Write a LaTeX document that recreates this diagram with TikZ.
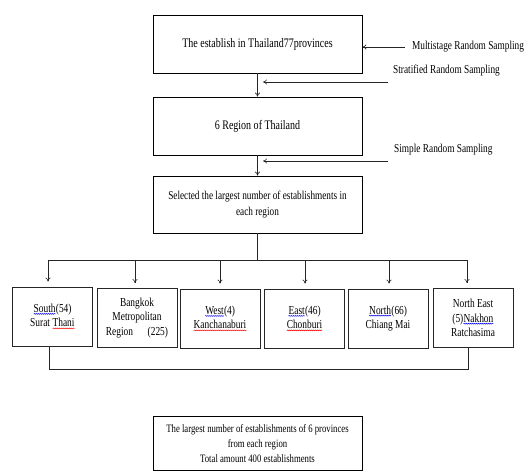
\documentclass[tikz,border=0pt]{standalone}
\usepackage{fontspec}
\setmainfont[FakeStretch=0.77]{Liberation Serif}
\usetikzlibrary{decorations.pathmorphing,arrows.meta,calc}
\newcommand\sqg[2]{\tikz[baseline=(w.base),x=1cm,y=1cm]{\node[inner sep=0pt,outer sep=0pt,minimum width=0pt,minimum height=0pt,draw=none,anchor=center](w){#2};\draw[#1,line width=0.5pt,decorate,decoration={snake,amplitude=0.45pt,segment length=2pt}] ([yshift=-1.4pt]w.south west) -- ([yshift=-1.4pt]w.south east);}}
\tikzset{
  bigbox/.style={draw=black,line width=0.7pt,minimum width=209pt,align=center,inner sep=2pt,font=\fontsize{13}{15}\selectfont},
  regbox/.style={draw=black!85,line width=0.8pt,minimum width=80pt,minimum height=59pt,align=center,inner sep=1pt,font=\fontsize{12.2}{14.5}\selectfont},
  side/.style={font=\fontsize{12.1}{13}\selectfont,inner sep=0pt},
  arr/.style={-{To[length=4pt,width=5pt]},line width=0.6pt,black!85},
  ln/.style={line width=0.6pt,black!85}
}
\begin{document}
\begin{tikzpicture}[x=1pt,y=-1pt]
\useasboundingbox (0,0) rectangle (527,472);
\node[bigbox,minimum height=58pt] (b1) at (257.5,44) {The establish in Thailand77provinces};
\node[bigbox,minimum height=58pt] (b2) at (257.5,126) {6 Region of Thailand};
\node[bigbox,minimum height=57pt,font=\fontsize{12}{15.5}\selectfont] (b3) at (257.5,204.5) {Selected the largest number of establishments in\\each region};
\node[bigbox,minimum height=54pt,font=\fontsize{11.3}{14.7}\selectfont] (b4) at (257.5,443.5) {The largest number of establishments of 6 provinces\\from each region\\Total amount 400 establishments};

\node[side,anchor=west] (t1) at (412,47) {Multistage Random Sampling};
\node[side,anchor=west] (t2) at (393,71) {Stratified Random Sampling};
\node[side,anchor=west] (t3) at (394,150) {Simple Random Sampling};
\coordinate (m1) at (405,47);
\coordinate (s1) at (388,82);
\coordinate (s2) at (263,82);
\coordinate (r1) at (388,161);
\coordinate (r2) at (263,161);
\draw[arr] (m1) -- (m1 -| b1.east);
\draw[arr] (s1) -- (s2);
\draw[arr] (r1) -- (r2);
\draw[arr] (b1.south) -- (b2.north);
\draw[arr] (b2.south) -- (b3.north);

\node[regbox] (r1b) at (52.5,316.5) {\sqg{blue}{South}(54)\\Surat \sqg{red}{Thani}};
\node[regbox] (r2b) at (137,318) {Bangkok\\Metropolitan\\Region\hspace{1.2em}(225)};
\node[regbox] (r3b) at (220,318.5) {\sqg{blue}{West}(4)\\\sqg{red}{Kanchanaburi}};
\node[regbox] (r4b) at (304.5,318.5) {\sqg{blue}{East}(46)\\\sqg{red}{Chonburi}};
\node[regbox] (r5b) at (388,318.5) {\sqg{blue}{North}(66)\\Chiang Mai};
\node[regbox] (r6b) at (473,318) {North East\\(5)\sqg{blue}{Nakhon}\\Ratchasima};

\coordinate (j0) at (257.5,260);
\coordinate (bl) at (48,260);
\coordinate (br) at (467,260);
\draw[ln] (b3.south) -- (j0);
\draw[ln] (bl) -- (br);
\foreach \x/\n in {48/r1b,135/r2b,220/r3b,305/r4b,389/r5b,467/r6b}{
  \draw[arr] (\x,260) -- ($(\n.north -| \x,0)+(0,-5)$);
}
\coordinate (cl) at (49,369);
\coordinate (cr) at (468,369);
\draw[ln] (r1b.south -| cl) -- (cl) -- (cr) -- (r6b.south -| cr);
\end{tikzpicture}
\end{document}
